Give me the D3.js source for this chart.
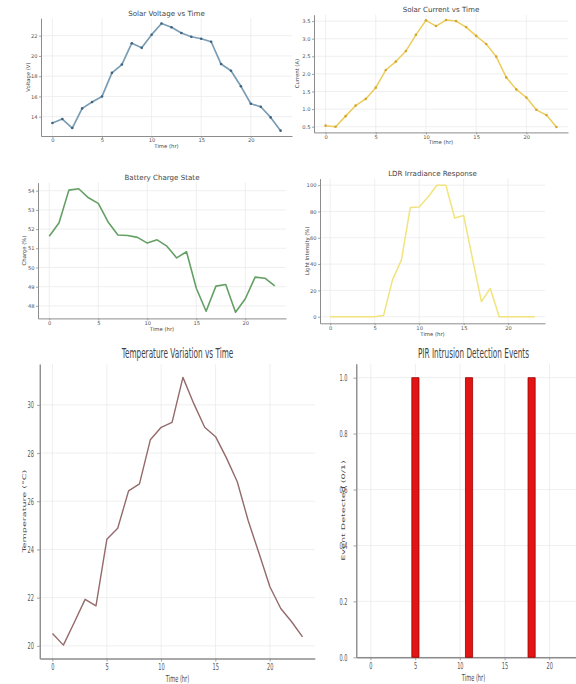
<!DOCTYPE html>
<meta charset="utf-8"/>
<style>
  body { margin: 0; background: #fff; }
  svg { display: block; }
</style>
<svg width="576" height="684"></svg>
<script src="https://cdn.jsdelivr.net/npm/d3@7/dist/d3.min.js"></script>
<script>

// data (hour of day -> reading)
const hours = [0,1,2,3,4,5,6,7,8,9,10,11,12,13,14,15,16,17,18,19,20,21,22,23]
const voltage = [13.38,13.77,12.88,14.82,15.45,16.0,18.33,19.15,21.26,20.8,22.1,23.2,
                 22.84,22.27,21.9,21.7,21.4,19.2,18.53,17.0,15.28,14.98,13.93,12.62]
const current = [0.53,0.50,0.80,1.10,1.29,1.61,2.11,2.35,2.65,3.11,3.52,3.36,
                 3.53,3.50,3.33,3.08,2.85,2.49,1.90,1.56,1.33,0.98,0.83,0.49]
const charge = [51.63,52.33,54.03,54.1,53.63,53.34,52.37,51.69,51.67,51.57,51.27,51.44,
                51.11,50.5,50.82,48.92,47.72,49.03,49.11,47.67,48.37,49.5,49.44,49.04]
const light = [0,0,0,0,0,0,1,28,43,83,83.5,91,100,100,75,77,44,11.5,21.5,0,0,0,0,0]
const temperature = [20.51,20.03,20.97,21.93,21.66,24.42,24.88,26.43,26.72,28.55,29.07,29.27,
                     31.14,30.05,29.07,28.68,27.8,26.81,25.2,23.84,22.45,21.55,21.0,20.37]
const pir = [0,0,0,0,0,1,0,0,0,0,0,1,0,0,0,0,0,0,1,0,0,0,0,0]

const hourTicks = [0,5,10,15,20]

var FONT = "DejaVu Sans"
var svg = d3.select("svg")

// matplotlib style 5% margin around the data
function pad(ext, f) {
    f = f || 0.05
    var d = (ext[1] - ext[0]) * f
    return [ext[0] - d, ext[1] + d]
}

function panel(c) {
    var sx = c.sx || 1
    var g = svg.append("g")
    if (sx != 1) g.attr("transform", "scale(" + sx + ",1)")

    var x = d3.scaleLinear().domain(c.xDomain).range([c.left / sx, c.right / sx])
    var y = d3.scaleLinear().domain(c.yDomain).range([c.bottom, c.top])

    // grid
    g.append("g").selectAll("line").data(c.xTicks).join("line")
        .attr("x1", d => x(d)).attr("x2", d => x(d))
        .attr("y1", c.top).attr("y2", c.bottom)
        .attr("stroke", "#ebebeb").attr("stroke-width", 0.8)
        .attr("vector-effect", "non-scaling-stroke")
    g.append("g").selectAll("line").data(c.yTicks).join("line")
        .attr("x1", c.left / sx).attr("x2", c.right / sx)
        .attr("y1", d => y(d)).attr("y2", d => y(d))
        .attr("stroke", "#ebebeb").attr("stroke-width", 0.8)
        .attr("vector-effect", "non-scaling-stroke")

    // axes
    var ax = g.append("g").attr("transform", "translate(0," + c.bottom + ")")
        .call(d3.axisBottom(x).tickValues(c.xTicks).tickSize(c.tick)
              .tickPadding(c.pad).tickSizeOuter(0))
    var ay = g.append("g").attr("transform", "translate(" + (c.left / sx) + ",0)")
        .call(d3.axisLeft(y).tickValues(c.yTicks).tickFormat(c.yFormat || d3.format("d"))
              .tickSize(c.tick / sx).tickPadding(c.ypad / sx).tickSizeOuter(0))

    ;[ax, ay].forEach(function(a) {
        a.select(".domain").attr("stroke", "#8c8c8c").attr("stroke-width", c.spine)
            .attr("vector-effect", "non-scaling-stroke")
        a.selectAll(".tick line").attr("stroke", "#8c8c8c").attr("stroke-width", 0.8)
            .attr("vector-effect", "non-scaling-stroke")
        a.selectAll("text").attr("font-size", c.tickFont).attr("fill", "#555")
            .attr("font-family", FONT)
    })

    // title and labels
    var cx = (c.left + c.right) / 2 / sx
    g.append("text").attr("x", cx).attr("y", c.top - c.titleGap)
        .attr("text-anchor", "middle").attr("font-family", FONT)
        .attr("font-size", c.titleFont).attr("fill", "#444").text(c.title)
    g.append("text").attr("x", cx).attr("y", c.bottom + c.xLabelGap)
        .attr("text-anchor", "middle").attr("font-family", FONT)
        .attr("font-size", c.labelFont).attr("fill", "#444").text(c.xLabel)
    var lx = (c.left - c.yLabelGap) / sx, ly = (c.top + c.bottom) / 2
    g.append("text").attr("transform", "translate(" + lx + "," + ly + ") rotate(-90)")
        .attr("text-anchor", "middle").attr("dominant-baseline", "central")
        .attr("font-family", FONT)
        .attr("font-size", c.labelFont).attr("fill", "#444").text(c.yLabel)

    return { g: g, x: x, y: y }
}

var small = { tick: 2, pad: 0.8, ypad: 1.5, spine: 1, tickFont: 5.2, titleFont: 7.1, labelFont: 5.3,
              titleGap: 2.5, xLabelGap: 11.8, xTicks: hourTicks }
var big = { sx: 0.53, tick: 3, pad: 1.5, ypad: 3, spine: 1.4, tickFont: 9.5, titleFont: 13.8,
            labelFont: 9.6, titleGap: 5.5, xLabelGap: 24, xTicks: hourTicks }

function linePlot(p, values, color, width, markers, markerColor) {
    var line = d3.line().x((d, i) => p.x(hours[i])).y(d => p.y(d))
    p.g.append("path").datum(values).attr("d", line)
        .attr("fill", "none").attr("stroke", color).attr("stroke-width", width)
        .attr("stroke-linejoin", "round").attr("vector-effect", "non-scaling-stroke")
    if (markers) {
        p.g.append("g").selectAll("circle").data(values).join("circle")
            .attr("cx", (d, i) => p.x(hours[i])).attr("cy", d => p.y(d))
            .attr("r", 1.3).attr("fill", markerColor)
    }
}

// Solar voltage
var p1 = panel(Object.assign({}, small, {
    left: 41, right: 292, top: 18.2, bottom: 136,
    xDomain: pad(d3.extent(hours)), yDomain: pad(d3.extent(voltage)),
    yTicks: [14,16,18,20,22], title: "Solar Voltage vs Time",
    xLabel: "Time (hr)", yLabel: "Voltage (V)", yLabelGap: 13
}))
linePlot(p1, voltage, "#7b9db4", 1.7, true, "#3d6482")

// Solar current
var p2 = panel(Object.assign({}, small, {
    left: 314, right: 568, top: 14.7, bottom: 132.4,
    xDomain: pad(d3.extent(hours)), yDomain: pad(d3.extent(current)),
    yTicks: [0.5,1.0,1.5,2.0,2.5,3.0,3.5], yFormat: d3.format(".1f"),
    title: "Solar Current vs Time", xLabel: "Time (hr)", yLabel: "Current (A)", yLabelGap: 17
}))
linePlot(p2, current, "#ebcc5c", 1.5, true, "#d2a92c")

// Battery charge
var p3 = panel(Object.assign({}, small, {
    left: 38, right: 286, top: 182.6, bottom: 318.4,
    xDomain: pad(d3.extent(hours)), yDomain: pad(d3.extent(charge)),
    yTicks: [48,49,50,51,52,53,54], title: "Battery Charge State",
    xLabel: "Time (hr)", yLabel: "Charge (%)", yLabelGap: 14, xLabelGap: 12.5
}))
linePlot(p3, charge, "#64a064", 1.6, false)

// LDR
var p4 = panel(Object.assign({}, small, {
    left: 320, right: 545, top: 178.6, bottom: 323.3,
    xDomain: pad(d3.extent(hours)), yDomain: pad(d3.extent(light)),
    yTicks: [0,20,40,60,80,100], title: "LDR Irradiance Response",
    xLabel: "Time (hr)", yLabel: "Light Intensity (%)", yLabelGap: 13, xLabelGap: 12.5
}))
linePlot(p4, light, "#f1e47c", 1.5, false)

// Temperature
var p5 = panel(Object.assign({}, big, {
    left: 40, right: 315, top: 364, bottom: 658.5,
    xDomain: pad(d3.extent(hours)), yDomain: pad(d3.extent(temperature)),
    yTicks: [20,22,24,26,28,30], title: "Temperature Variation vs Time",
    xLabel: "Time (hr)", yLabel: "Temperature (°C)", yLabelGap: 16
}))
linePlot(p5, temperature, "#946a6a", 1.4, false)

// PIR events as bars of width 0.8
var barW = 0.8
var p6 = panel(Object.assign({}, big, {
    left: 356.5, right: 590.5, top: 363.7, bottom: 657.3,
    xDomain: pad([d3.min(hours) - barW / 2, d3.max(hours) + barW / 2]), yDomain: [0, 1.05],
    yTicks: [0,0.2,0.4,0.6,0.8,1.0], yFormat: d3.format(".1f"), ypad: 6,
    title: "PIR Intrusion Detection Events", xLabel: "Time (hr)",
    yLabel: "Event Detected (0/1)", yLabelGap: 13.5
}))
p6.g.append("g").selectAll("rect").data(pir).join("rect")
    .attr("x", (d, i) => p6.x(hours[i] - barW / 2))
    .attr("width", (d, i) => p6.x(hours[i] + barW / 2) - p6.x(hours[i] - barW / 2))
    .attr("y", d => p6.y(d)).attr("height", d => p6.y(0) - p6.y(d))
    .attr("fill", "#e31414").attr("stroke", d => d ? "#9a0000" : "none")
    .attr("stroke-width", 0.8).attr("vector-effect", "non-scaling-stroke")

</script>
